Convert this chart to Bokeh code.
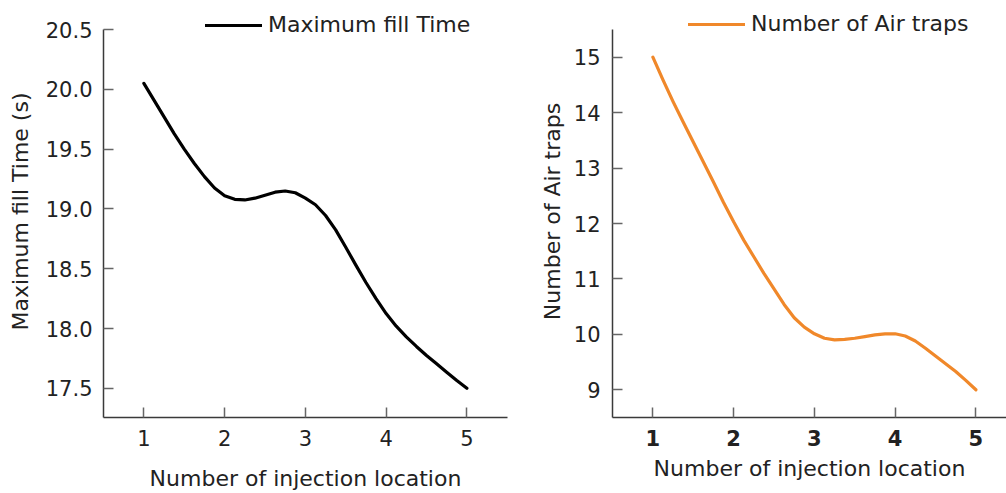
from bokeh.plotting import figure
from bokeh.layouts import row
from bokeh.models import Range1d, FixedTicker, Legend, LegendItem, NumeralTickFormatter
from bokeh.embed import file_html
from bokeh.resources import INLINE

# ---- data ----
x_loc = [1.0, 1.125, 1.25, 1.375, 1.5, 1.625, 1.75, 1.875, 2.0, 2.125, 2.25, 2.375, 2.5,
         2.625, 2.75, 2.875, 3.0, 3.125, 3.25, 3.375, 3.5, 3.625, 3.75, 3.875, 4.0,
         4.125, 4.25, 4.375, 4.5, 4.625, 4.75, 4.875, 5.0]
fill_time = [20.05, 19.91, 19.77, 19.63, 19.50, 19.38, 19.27, 19.175, 19.11, 19.08, 19.075,
             19.09, 19.115, 19.14, 19.15, 19.135, 19.09, 19.035, 18.945, 18.825, 18.68,
             18.53, 18.385, 18.25, 18.125, 18.02, 17.93, 17.85, 17.775, 17.705, 17.635,
             17.565, 17.50]
air_traps = [15.0, 14.59, 14.2, 13.83, 13.47, 13.11, 12.75, 12.38, 12.03, 11.70, 11.40,
             11.10, 10.82, 10.54, 10.30, 10.13, 10.01, 9.93, 9.90, 9.91, 9.93, 9.96,
             9.99, 10.01, 10.01, 9.97, 9.88, 9.75, 9.61, 9.47, 9.33, 9.17, 9.0]

x_ticks = [1, 2, 3, 4, 5]
left_y_ticks = [17.5, 18.0, 18.5, 19.0, 19.5, 20.0, 20.5]
right_y_ticks = [9, 10, 11, 12, 13, 14, 15]

x_title = "Number of injection location"
left_y_title = "Maximum fill Time (s)"
right_y_title = "Number of Air traps"
left_series = "Maximum fill Time"
right_series = "Number of Air traps"

FONT = "DejaVu Sans"
TXT = "#222222"


def style(p):
    p.outline_line_color = None
    p.xgrid.visible = False
    p.ygrid.visible = False
    p.background_fill_color = "white"
    p.border_fill_color = "white"
    for ax in (p.xaxis[0], p.yaxis[0]):
        ax.axis_line_color = "#3a3a3a"
        ax.axis_line_width = 1.5
        ax.major_tick_in = 10
        ax.major_tick_out = 0
        ax.major_tick_line_color = "#666666"
        ax.major_tick_line_width = 1.5
        ax.minor_tick_line_color = None
        ax.major_label_text_font = FONT
        ax.major_label_text_font_size = "21px"
        ax.major_label_text_color = TXT
        ax.axis_label_text_font = FONT
        ax.axis_label_text_font_size = "22px"
        ax.axis_label_text_font_style = "normal"
        ax.axis_label_text_color = TXT


def make_legend(label, renderer, loc):
    return Legend(items=[LegendItem(label=label, renderers=[renderer])],
                  location=loc, padding=0, margin=0, spacing=0,
                  glyph_width=57, glyph_height=20, label_standoff=6,
                  border_line_alpha=0, background_fill_alpha=0,
                  label_text_font=FONT, label_text_font_size="22px",
                  label_text_color=TXT)


# ---- left chart ----
p1 = figure(width=520, height=493, output_backend="svg", toolbar_location=None,
            x_range=Range1d(0.5, 5.503), y_range=Range1d(17.256, 20.701),
            min_border_left=103, min_border_right=13, min_border_top=5, min_border_bottom=76)
style(p1)
r1 = p1.line(x_loc, fill_time, line_color="#000000", line_width=3.2,
             line_join="round", line_cap="round")
p1.xaxis.ticker = FixedTicker(ticks=x_ticks)
p1.yaxis.ticker = FixedTicker(ticks=left_y_ticks)
p1.yaxis.bounds = (17.256, 20.5)
p1.yaxis.formatter = NumeralTickFormatter(format="0.0")
p1.xaxis.axis_label = x_title
p1.yaxis.axis_label = left_y_title
p1.xaxis.major_label_standoff = 12
p1.xaxis.axis_label_standoff = 17
p1.yaxis.major_label_standoff = 11
p1.yaxis.axis_label_standoff = 10
p1.add_layout(make_legend(left_series, r1, (102, 380)))

# ---- right chart ----
p2 = figure(width=486, height=493, output_backend="svg", toolbar_location=None,
            x_range=Range1d(0.5, 5.379), y_range=Range1d(8.5, 15.933),
            min_border_left=92, min_border_right=0, min_border_top=5, min_border_bottom=76)
style(p2)
r2 = p2.line(x_loc, air_traps, line_color="#F0882A", line_width=3.2,
             line_join="round", line_cap="round")
p2.xaxis.ticker = FixedTicker(ticks=x_ticks)
p2.yaxis.ticker = FixedTicker(ticks=right_y_ticks)
p2.yaxis.bounds = (8.5, 15.5)
p2.xaxis.major_label_text_font_style = "bold"
p2.xaxis.axis_label = x_title
p2.yaxis.axis_label = right_y_title
p2.xaxis.major_label_standoff = 12
p2.xaxis.axis_label_standoff = 7
p2.yaxis.major_label_standoff = 12
p2.yaxis.axis_label_standoff = 6
p2.add_layout(make_legend(right_series, r2, (76, 381)))

layout = row(p1, p2)
open("out.html", "w").write(file_html(layout, INLINE))
